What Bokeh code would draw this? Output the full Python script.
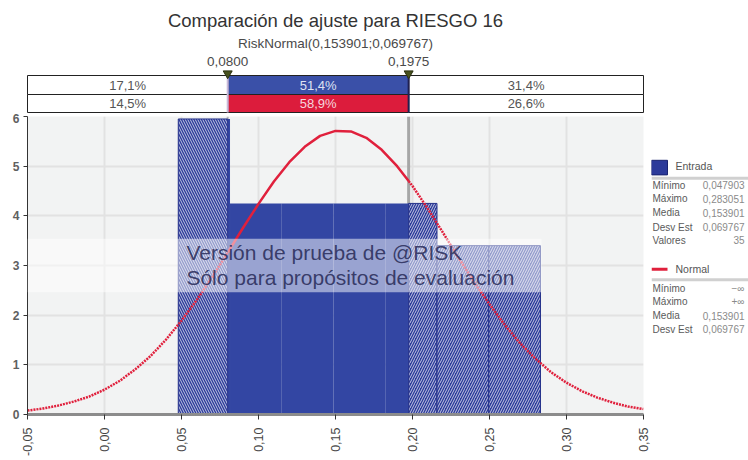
import numpy as np
from bokeh.plotting import figure
from bokeh.models import Range1d, FixedTicker, Span, BoxAnnotation
from bokeh.layouts import column, row
from bokeh.embed import file_html
from bokeh.resources import INLINE
from bokeh.core.properties import value

# ------------------------------------------------------------------ data
title_text = "Comparación de ajuste para RIESGO 16"
subtitle_text = "RiskNormal(0,153901;0,069767)"

delimiters = [0.0800, 0.1975]
delimiter_labels = ["0,0800", "0,1975"]

input_pcts = [17.1, 51.4, 31.4]   # Entrada
fit_pcts = [14.5, 58.9, 26.6]     # Normal

bin_edges = [0.0479, 0.0815, 0.1151, 0.1487, 0.1823, 0.2159, 0.2495, 0.2831]
bin_density = [5.95, 4.25, 4.25, 4.25, 4.25, 3.40, 3.40]

normal_x = [-0.05, -0.04, -0.03, -0.02, -0.01, 0.00, 0.01, 0.02, 0.03, 0.04,
            0.05, 0.06, 0.07, 0.08, 0.09, 0.10, 0.11, 0.12, 0.13, 0.14,
            0.15, 0.16, 0.17, 0.18, 0.19, 0.1975, 0.20, 0.21, 0.22, 0.23,
            0.24, 0.25, 0.26, 0.27, 0.28, 0.29, 0.30, 0.31, 0.32, 0.33,
            0.34, 0.35]
normal_y = [0.08, 0.12, 0.18, 0.26, 0.36, 0.50, 0.68, 0.91, 1.18, 1.51,
            1.89, 2.31, 2.77, 3.26, 3.76, 4.24, 4.69, 5.08, 5.39, 5.61,
            5.71, 5.70, 5.57, 5.33, 5.00, 4.70, 4.60, 4.14, 3.65, 3.15,
            2.67, 2.22, 1.80, 1.43, 1.12, 0.85, 0.64, 0.47, 0.34, 0.24,
            0.16, 0.11]

x_ticks = [-0.05, 0.0, 0.05, 0.10, 0.15, 0.20, 0.25, 0.30, 0.35]
x_tick_labels = ["-0,05", "0,00", "0,05", "0,10", "0,15", "0,20", "0,25", "0,30", "0,35"]
y_ticks = [0, 1, 2, 3, 4, 5, 6]

legend_names = ["Entrada", "Normal"]
input_stat_names = ["Mínimo", "Máximo", "Media", "Desv Est", "Valores"]
input_stat_values = ["0,047903", "0,283051", "0,153901", "0,069767", "35"]
fit_stat_names = ["Mínimo", "Máximo", "Media", "Desv Est"]
fit_stat_values = ["−∞", "+∞", "0,153901", "0,069767"]

watermark_lines = ["Versión de prueba de @RISK", "Sólo para propósitos de evaluación"]

# ------------------------------------------------------------------ style
FONT = "Liberation Sans"
XMIN, XMAX = -0.05, 0.35
YMAX = 6
BAR_BLUE = "#3346a3"
HATCH_BLUE = "#2b3a9a"
EDGE_BLUE = "#25318a"
RED = "#e0203c"
BAND_BLUE = "#3a50a8"
BAND_RED = "#dc1c3c"


def pct(v):
    return f"{v:.1f}".replace(".", ",") + "%"


TOTAL_W = 748
TOP_H = 113
MAIN_H = 347
FRAME_LEFT = 27
FRAME_PX = 616
MAIN_W = FRAME_LEFT + FRAME_PX + 8
LEG_W = TOTAL_W - MAIN_W
pad = (XMAX - XMIN) / FRAME_PX  # one pixel in data units

# ------------------------------------------------------------------ top band
top = figure(width=TOTAL_W, height=TOP_H,
             x_range=Range1d(XMIN - pad, XMAX + pad), y_range=Range1d(TOP_H, 0),
             x_axis_location=None, y_axis_location=None,
             min_border_left=FRAME_LEFT - 1, min_border_right=TOTAL_W - FRAME_LEFT - FRAME_PX - 1,
             min_border_top=0, min_border_bottom=0,
             output_backend="svg", toolbar_location=None)
top.grid.visible = False
top.outline_line_color = None
top.background_fill_color = "white"

mid_x = (XMIN + XMAX) / 2
top.text(x=[mid_x], y=[20], text=[title_text], text_align="center", text_baseline="middle",
         text_font=value(FONT), text_font_size="18.5px", text_color="#333333")
top.text(x=[mid_x], y=[43], text=[subtitle_text], text_align="center", text_baseline="middle",
         text_font=value(FONT), text_font_size="13.5px", text_color="#4a4a4a")
top.text(x=delimiters, y=[61] * len(delimiters), text=delimiter_labels, text_align="center",
         text_baseline="middle", text_font=value(FONT), text_font_size="13.5px", text_color="#4a4a4a")

cell_left = [XMIN] + delimiters
cell_right = delimiters + [XMAX]
cell_mid = [(a + b) / 2 for a, b in zip(cell_left, cell_right)]
ROW1 = (75, 94)
ROW2 = (94, 112)
top.quad(left=cell_left, right=cell_right, top=[ROW1[0]] * 3, bottom=[ROW1[1]] * 3,
         fill_color=["white", BAND_BLUE, "white"], line_color="#222222", line_width=1)
top.quad(left=cell_left, right=cell_right, top=[ROW2[0]] * 3, bottom=[ROW2[1]] * 3,
         fill_color=["white", BAND_RED, "white"], line_color="#222222", line_width=1)
top.text(x=cell_mid, y=[(ROW1[0] + ROW1[1]) / 2] * 3, text=[pct(v) for v in input_pcts],
         text_align="center", text_baseline="middle", text_font=value(FONT),
         text_font_size="13px", text_color=["#555555", "#dfe2f2", "#555555"])
top.text(x=cell_mid, y=[(ROW2[0] + ROW2[1]) / 2] * 3, text=[pct(v) for v in fit_pcts],
         text_align="center", text_baseline="middle", text_font=value(FONT),
         text_font_size="13px", text_color=["#555555", "#f6d6dc", "#555555"])
top.segment(x0=delimiters, y0=[ROW1[0]] * 2, x1=delimiters, y1=[ROW2[1]] * 2,
            line_color=["#c9b9d9", "#1f2050"], line_width=2)
top.scatter(x=delimiters, y=[73] * 2, marker="inverted_triangle", size=9,
            fill_color="#47511e", line_color="#2a3010")

# ------------------------------------------------------------------ main plot
main = figure(width=MAIN_W, height=MAIN_H,
              x_range=Range1d(XMIN, XMAX), y_range=Range1d(0, YMAX),
              min_border_left=FRAME_LEFT, min_border_right=MAIN_W - FRAME_LEFT - FRAME_PX,
              min_border_top=3, min_border_bottom=46,
              output_backend="svg", toolbar_location=None)
main.background_fill_color = "#f2f3f3"
main.border_fill_color = "white"
main.outline_line_color = None

main.xaxis.ticker = FixedTicker(ticks=x_ticks)
main.xaxis.major_label_overrides = dict(zip(x_ticks, x_tick_labels))
main.xaxis.major_label_orientation = np.pi / 2
main.xaxis.major_label_text_font = FONT
main.xaxis.major_label_text_font_size = "12.5px"
main.xaxis.major_label_text_color = "#444444"
main.xaxis.major_label_standoff = 8
main.xaxis.major_tick_out = 5
main.xaxis.major_tick_in = 0
main.xaxis.major_tick_line_color = "#333333"
main.xaxis.minor_tick_line_color = None
main.xaxis.axis_line_color = "#8c8c8c"
main.xaxis.axis_line_width = 3

main.yaxis.ticker = FixedTicker(ticks=y_ticks)
main.yaxis.major_label_text_font = FONT
main.yaxis.major_label_text_font_size = "12px"
main.yaxis.major_label_text_font_style = "bold"
main.yaxis.major_label_text_color = "#606060"
main.yaxis.major_label_standoff = 4
main.yaxis.major_tick_out = 4
main.yaxis.major_tick_in = 0
main.yaxis.major_tick_line_color = "#333333"
main.yaxis.minor_tick_line_color = None
main.yaxis.axis_line_color = "#333333"

main.grid.grid_line_color = "#e2e2e2"
main.grid.grid_line_width = 2

for d, w, c in zip(delimiters, [2, 3], ["#b9b9b9", "#a6a6a6"]):
    main.add_layout(Span(location=d, dimension="height", line_color=c, line_width=w,
                         level="underlay"))

# split histogram bins at the delimiters
regions = [(XMIN, delimiters[0]), (delimiters[0], delimiters[1]), (delimiters[1], XMAX)]
parts = [dict(left=[], right=[], top=[], bottom=[]) for _ in regions]
for l, r, h in zip(bin_edges[:-1], bin_edges[1:], bin_density):
    for k, (lo, hi) in enumerate(regions):
        a, b = max(l, lo), min(r, hi)
        if b > a:
            parts[k]["left"].append(a)
            parts[k]["right"].append(b)
            parts[k]["top"].append(h)
            parts[k]["bottom"].append(0)

main.quad(**parts[1], fill_color=BAR_BLUE, line_color=None)
main.quad(**parts[0], fill_color=HATCH_BLUE, line_color=EDGE_BLUE, line_width=1,
          hatch_pattern="\\", hatch_color="white", hatch_alpha=0.8,
          hatch_scale=5, hatch_weight=0.9)
main.quad(**parts[2], fill_color=HATCH_BLUE, line_color=EDGE_BLUE, line_width=1,
          hatch_pattern="/", hatch_color="white", hatch_alpha=0.8,
          hatch_scale=5, hatch_weight=0.9)

# fitted normal curve: solid between the delimiters, dotted outside
lx = [x for x in normal_x if x <= delimiters[0]]
ly = [y for x, y in zip(normal_x, normal_y) if x <= delimiters[0]]
mx = [x for x in normal_x if delimiters[0] <= x <= delimiters[1]]
my = [y for x, y in zip(normal_x, normal_y) if delimiters[0] <= x <= delimiters[1]]
rx = [x for x in normal_x if x >= delimiters[1]]
ry = [y for x, y in zip(normal_x, normal_y) if x >= delimiters[1]]
main.line(lx, ly, line_color=RED, line_width=2.5, line_dash="2 1")
main.line(mx, my, line_color=RED, line_width=2.5)
main.line(rx, ry, line_color=RED, line_width=2.5, line_dash="2 1")

# evaluation watermark (band under the text, text on top of everything)
main.add_layout(BoxAnnotation(left=XMIN, right=0.2838, bottom=2.46, top=3.54,
                              fill_color="white", fill_alpha=0.5, line_color=None))
wm = main.text(x=[0.0532, 0.0532], y=[3.26, 2.76], text=watermark_lines, text_align="left",
               text_baseline="middle", text_font=value(FONT), text_font_size="21px",
               text_color="#2c2f5c", text_alpha=0.9)
wm.level = "overlay"

# ------------------------------------------------------------------ legend panel
leg = figure(width=LEG_W, height=MAIN_H, x_range=Range1d(0, LEG_W), y_range=Range1d(MAIN_H, 0),
             x_axis_location=None, y_axis_location=None, min_border=0,
             output_backend="svg", toolbar_location=None)
leg.grid.visible = False
leg.outline_line_color = None

VAL_X = LEG_W - 4
LEG_FS = "10px"
leg.rect(x=[8], y=[59.5], width=16, height=17, fill_color="#2c3a9a", line_color="#1a2470")
leg.text(x=[24], y=[58], text=[legend_names[0]], text_baseline="middle",
         text_font=value(FONT), text_font_size="10.5px", text_color="#555555")
leg.segment(x0=[0], y0=[72], x1=[LEG_W], y1=[72], line_color="#d0d0d0", line_width=3)
in_rows = [80, 96, 112, 129, 144]
leg.text(x=[1] * len(input_stat_names), y=in_rows, text=input_stat_names, text_baseline="middle",
         text_font=value(FONT), text_font_size=LEG_FS, text_color="#5a5a5a")
leg.text(x=[VAL_X] * len(input_stat_values), y=in_rows, text=input_stat_values,
         text_align="right", text_baseline="middle",
         text_font=value(FONT), text_font_size=LEG_FS, text_color="#8a8a8a")

leg.segment(x0=[0], y0=[178], x1=[16], y1=[178], line_color=RED, line_width=3)
leg.text(x=[24], y=[177], text=[legend_names[1]], text_baseline="middle",
         text_font=value(FONT), text_font_size="10.5px", text_color="#555555")
leg.segment(x0=[0], y0=[190], x1=[LEG_W], y1=[190], line_color="#d0d0d0", line_width=3)
fit_rows = [200, 216, 232, 248]
leg.text(x=[1] * len(fit_stat_names), y=fit_rows, text=fit_stat_names, text_baseline="middle",
         text_font=value(FONT), text_font_size=LEG_FS, text_color="#5a5a5a")
leg.text(x=[VAL_X] * len(fit_stat_values), y=fit_rows, text=fit_stat_values,
         text_align="right", text_baseline="middle",
         text_font=value(FONT), text_font_size=LEG_FS, text_color="#8a8a8a")

layout = column(top, row(main, leg))
open("out.html", "w").write(file_html(layout, INLINE))
